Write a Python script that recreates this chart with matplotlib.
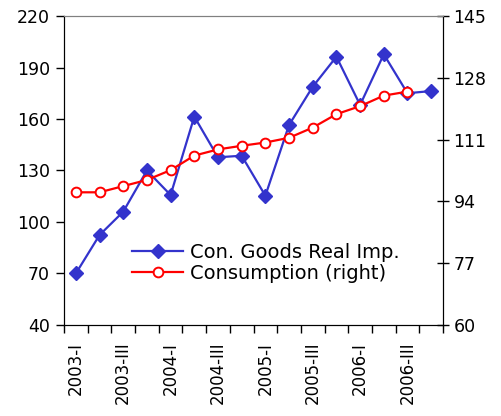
import matplotlib
matplotlib.use("Agg")
import matplotlib.pyplot as plt
import numpy as np

quarters = ["2003-I", "2003-II", "2003-III", "2003-IV",
            "2004-I", "2004-II", "2004-III", "2004-IV",
            "2005-I", "2005-II", "2005-III", "2005-IV",
            "2006-I", "2006-II", "2006-III", "2006-IV"]
imports = [70, 92.4, 106, 130, 115.7, 161.4, 137.7, 138.6,
           115.3, 156.5, 178.8, 196.3, 168.2, 197.7, 175, 176.3]
consumption = [96.5, 96.5, 98.2, 99.9, 102.6, 106.6, 108.3, 109.3,
               110.2, 111.5, 114.3, 118, 120.2, 123.1, 124.2]
left_ticks = [40, 70, 100, 130, 160, 190, 220]
right_ticks = [60, 77, 94, 111, 128, 145]

plt.rcParams['font.family'] = ['DejaVu Sans']
fig = plt.figure(figsize=(5.02, 4.16), dpi=100)
ax = fig.add_axes([0.1275, 0.2188, 0.755, 0.7427])
ax2 = ax.twinx()

x = np.arange(len(quarters))
blue = "#3333CC"
red = "#FF0000"

l1, = ax.plot(x, imports, color=blue, lw=1.6, marker="D", markersize=7.5,
              markerfacecolor=blue, markeredgecolor=blue,
              label="Con. Goods Real Imp.")
l2, = ax2.plot(x[:len(consumption)], consumption, color=red, lw=1.6, marker="o",
               markersize=7, markerfacecolor="white", markeredgecolor=red,
               markeredgewidth=1.4, label="Consumption (right)")

ax.set_xlim(-0.5, len(quarters) - 0.5)
ax.set_ylim(40, 220)
ax.set_yticks(left_ticks)
ax2.set_ylim(60, 145)
ax2.set_yticks(right_ticks)

# category boundaries carry the tick marks, labels sit at every other centre
ax.set_xticks(np.arange(-0.5, len(quarters) + 0.5, 1.0))
ax.set_xticklabels([])
ax.set_xticks(x[::2], minor=True)
ax.set_xticklabels(quarters[::2], minor=True, rotation=90, fontsize=12)
ax.tick_params(axis="x", which="major", direction="out", length=6, width=1)
ax.tick_params(axis="x", which="minor", length=0, pad=12)

ax.tick_params(axis="y", direction="out", length=6, width=1, labelsize=12.5, pad=4)
ax2.tick_params(axis="y", direction="inout", length=9, width=1, labelsize=12.5, pad=3)

for a in (ax, ax2):
    a.spines["top"].set_color("#808080")
    a.spines["left"].set_color("black")
    a.spines["right"].set_color("black")
    a.spines["bottom"].set_color("black")

leg = ax.legend(handles=[l1, l2], loc="upper left", bbox_to_anchor=(0.16, 0.29),
                frameon=False, fontsize=14, handlelength=2.6,
                handletextpad=0.35, labelspacing=0.1, borderaxespad=0)

fig.savefig("out.png", dpi=100)
